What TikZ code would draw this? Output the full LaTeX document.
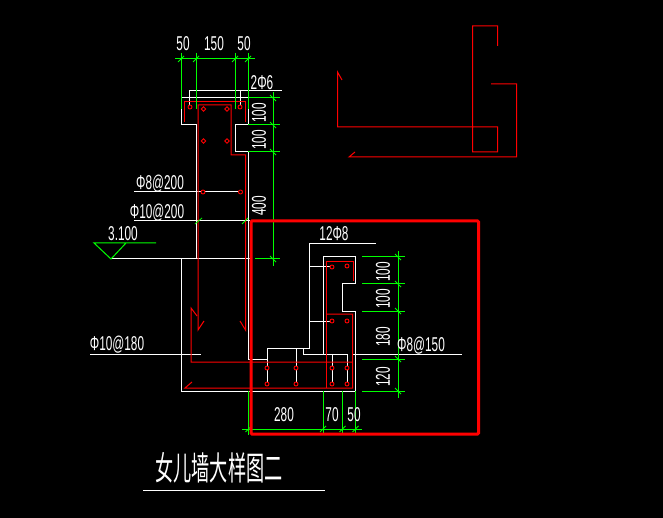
\documentclass[tikz,border=0pt]{standalone}
\usepackage{fontspec}
\usetikzlibrary{shapes.geometric}
\newfontfamily\cadfont[FakeStretch=0.59]{Liberation Sans}
\newfontfamily\cjk[FakeStretch=0.55]{Noto Sans CJK SC}
\begin{document}
\begin{tikzpicture}[x=1pt, y=-1pt]
	\tikzstyle{every node}=[inner sep=0pt, align=center]
	\tikzstyle{conc}=[draw=white, line width=1pt]
	\tikzstyle{rebar}=[draw=red, line width=1pt]
	\tikzstyle{dimn}=[draw=green, line width=1pt]
	\tikzstyle{tick}=[draw=green, line width=.8pt]
	\tikzstyle{lab}=[text=white, font=\cadfont\fontsize{20}{20}\selectfont]
	\tikzstyle{bar}=[circle, draw=red, line width=.9pt, minimum size=4pt, fill=black]
	\tikzstyle{barsq}=[diamond, draw=red, line width=.9pt, minimum size=5pt, fill=black]
	\fill [black] (0, 0) rectangle (663, 518);
	\useasboundingbox (0, 0) rectangle (663, 518);
	% concrete outline, parapet
	\draw [conc] (181, 125) -- (181, 98) -- (248, 98) -- (248, 125) -- (235, 125) -- (235, 152) -- (248, 152) -- (248, 359) -- (267, 359);
	\draw [conc] (181, 125) -- (196, 125) -- (196, 259);
	\draw [conc] (111, 259) -- (251, 259);
	\draw [conc] (181, 259) -- (181, 391) -- (355.5, 391);
	% concrete outline, detail
	\draw [conc] (323, 354) -- (323, 257) -- (355.5, 257) -- (355.5, 284) -- (342.5, 284) -- (342.5, 311) -- (355.5, 311) -- (355.5, 391);
	% leaders
	\draw [conc] (189, 98) -- (189, 91) -- (282, 91);
	\draw [conc] (189, 91) -- (189, 107);
	\draw [conc] (240, 91) -- (240, 107);
	\draw [conc] (134, 192) -- (240, 192);
	\draw [conc] (134, 221) -- (250, 221);
	\draw [conc] (90, 354) -- (201, 354);
	\draw [conc] (376, 244) -- (309, 244) -- (309, 348) -- (267, 348) -- (267, 384);
	\draw [conc] (296, 348) -- (296, 384);
	\draw [conc] (309, 267) -- (332, 267);
	\draw [conc] (309, 321) -- (332, 321);
	\draw [conc] (303, 348) -- (303, 354) -- (347, 354) -- (347, 384);
	\draw [conc] (332, 354) -- (332, 384);
	\draw [conc] (353, 354) -- (462, 354);
	% rebar, parapet
	\draw [rebar] (184, 122) -- (184, 102) -- (245.5, 102) -- (245.5, 122);
	\draw [rebar] (204, 321) -- (198, 330) -- (198, 105) -- (231, 105) -- (231, 155) -- (245.5, 155) -- (245.5, 330) -- (240, 321);
	\draw [rebar] (197, 316) -- (191, 308) -- (191, 362) -- (352, 362);
	\draw [rebar] (192, 382) -- (185, 388) -- (352.5, 388) -- (352.5, 314) -- (326.5, 314);
	\draw [rebar] (353, 281) -- (353, 262) -- (326.5, 262) -- (326.5, 388);
	% rebar, upper right
	\draw [rebar] (497.5, 46) -- (497.5, 26) -- (472.5, 26) -- (472.5, 152) -- (497.5, 152) -- (497.5, 127) -- (337.5, 127) -- (337.5, 72) -- (342, 80);
	\draw [rebar] (355, 152) -- (349, 157) -- (516.5, 157) -- (516.5, 84) -- (491, 84);
	% bar sections
	\foreach \i/\x/\y in {a/190/107, b/240/107, c/203/192, d/240.5/192, e/267/368, f/267/384, g/296/368, h/296/384, i/332/368, j/347/368, k/347/384, l/332/267, m/347/266, n/332/321, o/347/321, p/332/384} {
		\node [bar] (bar\i) at (\x, \y) {};
	}
	\foreach \i/\x/\y in {a/203.5/109, b/227/109, c/203.5/141, d/227/141} {
		\node [barsq] (sq\i) at (\x, \y) {};
	}
	% dimensions
	\draw [dimn] (175, 59) -- (255, 59);
	\foreach \x in {181, 196, 235, 248} {
		\draw [dimn] (\x, 53) -- (\x, 109);
		\draw [tick] (\x-3, 62) -- (\x+3, 56);
	}
	\draw [dimn] (273, 92) -- (273, 266);
	\draw [dimn] (248, 98) -- (280, 98);
	\draw [dimn] (248, 125) -- (280, 125);
	\draw [dimn] (248, 152) -- (280, 152);
	\draw [dimn] (255, 259) -- (280, 259);
	\foreach \y in {98, 125, 152, 259} {
		\draw [tick] (270, \y-3) -- (276, \y+3);
	}
	\draw [dimn] (398, 251) -- (398, 398);
	\foreach \y in {257, 284, 311, 359, 391} {
		\draw [dimn] (362, \y) -- (405, \y);
		\draw [tick] (395, \y-3) -- (401, \y+3);
	}
	\draw [dimn] (242, 429) -- (362, 429);
	\foreach \x in {248.5, 323, 342.5, 355.5} {
		\draw [dimn] (\x, 391) -- (\x, 435);
		\draw [tick] (\x-3, 432) -- (\x+3, 426);
	}
	\draw [tick] (195, 224) -- (202, 218);
	\draw [tick] (242, 224) -- (248, 218);
	% elevation mark
	\draw [dimn] (156, 243) -- (94, 243) -- (111, 259) -- (126, 243);
	% outer frame
	\draw [draw=red, line width=3pt, rounded corners=1pt] (251, 221) rectangle (478.5, 434);
	% labels
	\node [lab] (w1) at (183, 44) {50};
	\node [lab] (w2) at (214, 44) {150};
	\node [lab] (w3) at (244, 44) {50};
	\node [lab] (bars) at (262, 83) {2Φ6};
	\node [lab, rotate=90] (h1) at (259, 113) {100};
	\node [lab, rotate=90] (h2) at (259, 140) {100};
	\node [lab, rotate=90] (h3) at (259, 206) {400};
	\node [lab] (sa) at (160, 184) {Φ8@200};
	\node [lab] (sb) at (157, 213) {Φ10@200};
	\node [lab] (elev) at (123, 234) {3.100};
	\node [lab] (sc) at (117, 345) {Φ10@180};
	\node [lab] (top) at (334, 234) {12Φ8};
	\node [lab, rotate=90] (r1) at (383, 272) {100};
	\node [lab, rotate=90] (r2) at (383, 299) {100};
	\node [lab, rotate=90] (r3) at (383, 337) {180};
	\node [lab, rotate=90] (r4) at (383, 377) {120};
	\node [lab] (sd) at (421, 346) {Φ8@150};
	\node [lab] (b1) at (284, 415) {280};
	\node [lab] (b2) at (332, 415) {70};
	\node [lab] (b3) at (354, 415) {50};
	\node [text=white, font=\cjk\fontsize{33}{33}\selectfont] (title) at (219, 468) {女儿墙大样图二};
	\draw [conc] (143, 490) -- (325, 490);
\end{tikzpicture}
\end{document}
